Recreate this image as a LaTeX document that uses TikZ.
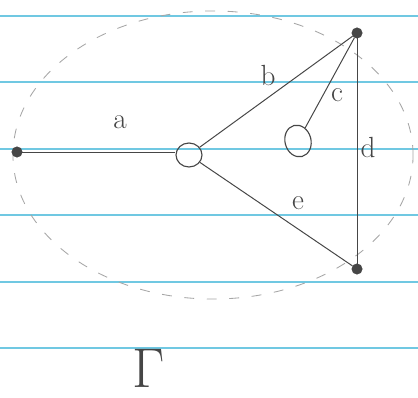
\documentclass[tikz,border=0pt]{standalone}
\usepackage{tikz}
\usetikzlibrary{positioning, shapes.geometric}

\definecolor{ruleblue}{RGB}{112,200,226}
\definecolor{pencil}{RGB}{70,70,70}

\begin{document}
\begin{tikzpicture}[
  x=0.025cm, y=-0.025cm,
  rule/.style = {ruleblue, line width=1.3pt},
  dot/.style  = {circle, fill=pencil, draw=pencil, inner sep=0pt, minimum size=2.6mm},
  ring/.style = {ellipse, draw=pencil, line width=0.8pt, inner sep=0pt},
  edg/.style  = {pencil, line width=0.7pt},
  lbl/.style  = {pencil, font=\huge}
]
\useasboundingbox[fill=white] (0,0) rectangle (418,398);
% ruled paper
\foreach \y in {16,82,149,215,282,348}
  \draw[rule] (0,\y) -- (418,\y);
% dashed boundary
\draw[gray!70, line width=0.6pt, dash pattern=on 7pt off 9pt]
  (213,155) ellipse [x radius=5cm, y radius=3.6cm];
% vertices
\node[dot]  (left)  at (17,152) {};
\node[ring, minimum width=6.5mm, minimum height=6mm] (mid) at (189,155) {};
\node[ring, minimum width=6.5mm, minimum height=8mm, rotate=15] (in) at (298,141) {};
\node[dot]  (top)   at (357,33) {};
\node[dot]  (bot)   at (357,269) {};
% edges
\draw[edg] (left) -- (left -| mid.west);
\draw[edg] (mid) -- (top);
\draw[edg] (in) -- (top);
\draw[edg] (top) -- (bot);
\draw[edg] (mid) -- (bot);
% labels
\node[lbl] (la) at (120,122) {a};
\node[lbl] (lb) at (268,76) {b};
\node[lbl] (lc) at (337,95) {c};
\node[lbl] (ld) at (368,147) {d};
\node[lbl] (le) at (298,203) {e};
\node[pencil, font=\Huge, scale=1.6, inner sep=0pt] (gam) at (149,368) {$\Gamma$};
\end{tikzpicture}
\end{document}
